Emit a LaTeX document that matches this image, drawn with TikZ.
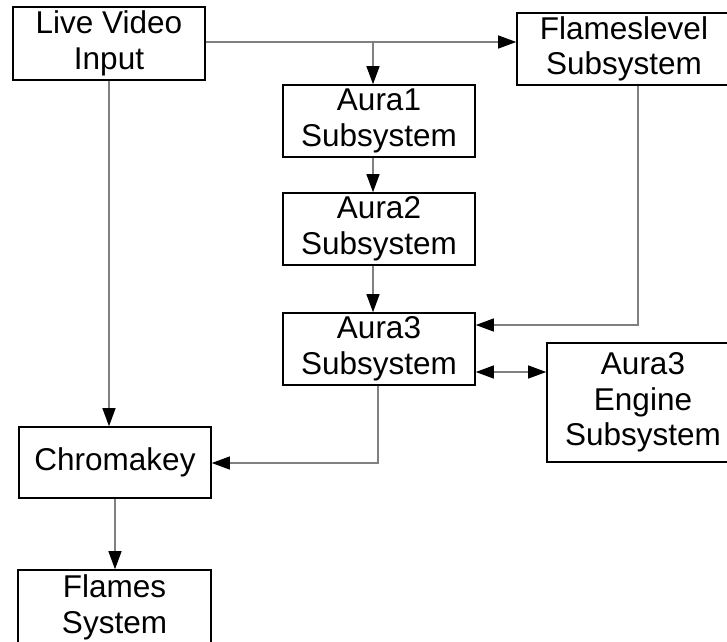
\documentclass[tikz,border=0pt]{standalone}
\usepackage{fontspec}
\setmainfont{Liberation Sans}
\usetikzlibrary{arrows.meta}
\tikzset{
  box/.style={draw=black, line width=1.6pt, fill=white, align=center, inner sep=0pt,
    font=\fontsize{31.5}{35.5}\selectfont, minimum width=192pt, minimum height=72pt},
  conn/.style={draw=black!50, line width=1.1pt},
  tip/.style={-{Triangle[length=18pt,width=13pt,color=black]}},
  dtip/.style={{Triangle[length=18pt,width=13pt,color=black]}-{Triangle[length=18pt,width=13pt,color=black]}}
}
\begin{document}
\begin{tikzpicture}[x=1pt,y=-1pt]
\useasboundingbox (0,0) rectangle (727,641);
\fill[white] (0,0) rectangle (727,641);
% boxes
\node[box, minimum height=73pt] (lvi) at (109,43.5) {Live Video\\Input};
\node[box, minimum width=214pt] (fl) at (624,49) {Flameslevel\\Subsystem};
\node[box] (a1) at (379,121) {Aura1\\Subsystem};
\node[box] (a2) at (379,229) {Aura2\\Subsystem};
\node[box] (a3) at (379,349) {Aura3\\Subsystem};
\node[box, minimum height=119pt] (eng) at (643,402.5) {Aura3\\Engine\\Subsystem};
\node[box, minimum height=71pt] (chr) at (115,462.5) {Chromakey};
\node[box, minimum width=193pt, minimum height=75pt] (fs) at (114.5,607.5) {Flames\\System};
% junctions
\coordinate (j1) at (373,42);
\coordinate (j2) at (638,325);
\coordinate (j3) at (511,372);
\coordinate (j4) at (378,463);
% connectors
\draw[conn,tip] (lvi.east |- j1) -- (fl.west |- j1);
\draw[conn,tip] (j1) -- (a1.north -| j1);
\draw[conn,tip] (lvi.south) -- (lvi.south |- chr.north);
\draw[conn,tip] (a1.south -| j1) -- (a2.north -| j1);
\draw[conn,tip] (a2.south -| j1) -- (a3.north -| j1);
\draw[conn,tip] (fl.south -| j2) -- (j2) -- (a3.east |- j2);
\draw[conn,dtip] (a3.east |- j3) -- (eng.west |- j3);
\draw[conn,tip] (a3.south -| j4) -- (j4) -- (chr.east |- j4);
\draw[conn,tip] (chr.south) -- (chr.south |- fs.north);
\end{tikzpicture}
\end{document}
